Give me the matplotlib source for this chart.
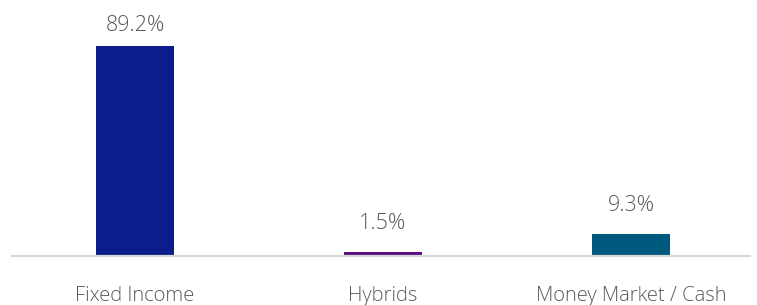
import matplotlib.pyplot as plt

categories = ["Fixed Income", "Hybrids", "Money Market / Cash"]
values = [89.2, 1.5, 9.3]
colors = ["#0b1d8b", "#5b0e7e", "#005a80"]

text_color = "#595959"
font = ["Open Sans", "DejaVu Sans"]

fig = plt.figure(figsize=(7.57, 3.05), dpi=100)
ax = fig.add_axes([0.0, 0.1607, 1.0, 0.8393])

x = list(range(len(categories)))
ax.bar(x, values, width=0.315, color=colors, zorder=2)

# value labels above bars, kept inside the plot at the top
ymax = 108.75
for xi, v in zip(x, values):
    ax.text(xi, min(v + 10.0, 95.6), f"{v}%", ha="center", va="baseline",
            fontsize=15.5, color=text_color, family=font, fontweight=300)

# category labels under the axis
for xi, name in zip(x, categories):
    ax.annotate(name, (xi, 0), xytext=(0, -32.4), textcoords="offset points",
                ha="center", va="baseline", fontsize=14.5, color=text_color,
                family=font, fontweight=300, annotation_clip=False)

ax.set_xlim(-0.544, 2.508)
ax.set_ylim(0, ymax)
ax.set_xticks([])
ax.set_yticks([])
for s in ["top", "right", "left"]:
    ax.spines[s].set_visible(False)
ax.spines["bottom"].set_color("#d9d9d9")
ax.spines["bottom"].set_linewidth(1.6)
ax.spines["bottom"].set_bounds(-0.496, 2.48)

fig.savefig("out.png", dpi=100)
